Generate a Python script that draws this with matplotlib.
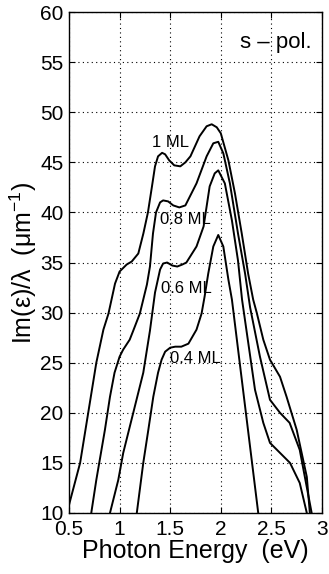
import numpy as np
import matplotlib.pyplot as plt

plt.rcParams['font.family'] = ['Liberation Sans', 'DejaVu Sans']
plt.rcParams['mathtext.fontset'] = 'custom'
plt.rcParams['mathtext.rm'] = 'Liberation Sans'

# Im(eps)/lambda vs photon energy, s-polarisation
x_1ml = [0.50, 0.61, 0.69, 0.77, 0.84, 0.89, 0.955, 1.00, 1.07, 1.12, 1.185, 1.235, 1.28, 1.32,
         1.35, 1.38, 1.42, 1.45, 1.49, 1.54, 1.60, 1.65, 1.70, 1.79, 1.86, 1.91, 1.96, 2.00,
         2.075, 2.14, 2.207, 2.27, 2.32, 2.355, 2.42, 2.486, 2.585, 2.65, 2.75, 2.85, 2.88]
y_1ml = [10.8, 15, 20, 25, 28.3, 29.9, 32.9, 34.1, 34.8, 35.1, 35.9, 37.9, 40.0, 42.6,
         44.6, 45.6, 45.95, 45.8, 45.2, 44.7, 44.6, 45.0, 45.6, 47.6, 48.6, 48.8, 48.5, 47.9,
         45.2, 41.9, 37.9, 33.9, 31.3, 30.0, 27.3, 25.3, 23.6, 21.6, 18.3, 13.6, 10]

x_08ml = [0.72, 0.77, 0.855, 0.905, 0.95, 1.00, 1.035, 1.10, 1.135, 1.20, 1.27, 1.30, 1.33,
          1.36, 1.40, 1.43, 1.48, 1.53, 1.59, 1.65, 1.76, 1.86, 1.926, 1.975, 2.025, 2.09,
          2.17, 2.24, 2.29, 2.387, 2.486, 2.585, 2.68, 2.78, 2.898]
y_08ml = [10, 13.3, 18.3, 21.6, 24.0, 25.6, 26.3, 27.3, 28.2, 29.9, 32.8, 34.6, 37.9,
          40.0, 41.0, 41.2, 41.1, 40.7, 40.5, 40.7, 42.9, 45.6, 46.9, 47.05, 45.9, 42.9,
          37.9, 33.9, 30.5, 25.6, 21.3, 20.0, 19.0, 16.3, 10]

x_06ml = [0.905, 0.987, 1.036, 1.135, 1.234, 1.30, 1.35, 1.40, 1.43, 1.47, 1.52, 1.57, 1.62,
          1.66, 1.76, 1.83, 1.89, 1.94, 1.975, 2.04, 2.11, 2.17, 2.21, 2.338, 2.42, 2.486,
          2.585, 2.684, 2.78, 2.85]
y_06ml = [10, 13.3, 16.0, 20.0, 24.0, 28.2, 32.0, 34.3, 34.9, 35.0, 34.7, 34.6, 34.8,
          35.0, 36.6, 38.6, 42.6, 43.9, 44.2, 42.9, 39.2, 35.2, 31.3, 22.3, 19.0, 17.0,
          16.0, 15.0, 13.0, 10]

x_04ml = [1.17, 1.234, 1.284, 1.333, 1.38, 1.415, 1.45, 1.50, 1.55, 1.61, 1.68, 1.76, 1.81,
          1.84, 1.876, 1.926, 1.975, 2.025, 2.075, 2.11, 2.37]
y_04ml = [10, 15, 18.3, 21.6, 24.0, 25.3, 26.1, 26.5, 26.6, 26.6, 26.9, 28.3, 29.9,
          31.6, 33.9, 36.6, 37.75, 36.6, 33.3, 31.3, 10]

fig = plt.figure(figsize=(3.29, 5.74), dpi=100)
ax = fig.add_axes([0.2097, 0.1063, 0.769, 0.8727])

for xs, ys in [(x_1ml, y_1ml), (x_08ml, y_08ml), (x_06ml, y_06ml), (x_04ml, y_04ml)]:
    ax.plot(xs, ys, color='black', lw=1.4)

ax.text(1.317, 47.0, '1 ML', fontsize=12, va='center')
ax.text(1.40, 39.3, '0.8 ML', fontsize=12, va='center')
ax.text(1.41, 32.4, '0.6 ML', fontsize=12, va='center')
ax.text(1.50, 25.4, '0.4 ML', fontsize=12, va='center')
ax.text(2.90, 56.4, 's \u2013 pol.', fontsize=16, va='baseline', ha='right')

ax.set_xlim(0.5, 3)
ax.set_ylim(10, 60)
ax.set_xticks([0.5, 1, 1.5, 2, 2.5, 3])
ax.set_xticklabels(['0.5', '1', '1.5', '2', '2.5', '3'])
ax.set_yticks(np.arange(10, 61, 5))
ax.tick_params(direction='in', labelsize=15, length=4, width=0.8,
               top=True, right=True)
ax.tick_params(axis='x', pad=5)
ax.tick_params(axis='y', pad=4)
ax.grid(True, color='black', linestyle=(0, (1, 3)), lw=0.8)
for s in ax.spines.values():
    s.set_linewidth(1.0)

ax.set_xlabel('Photon Energy  (eV)', fontsize=18, labelpad=0)
ax.set_ylabel('Im(\u03b5)/\u03bb  (\u03bcm$^{-1}$)', fontsize=18, labelpad=1)

fig.savefig('out.png', dpi=100)
